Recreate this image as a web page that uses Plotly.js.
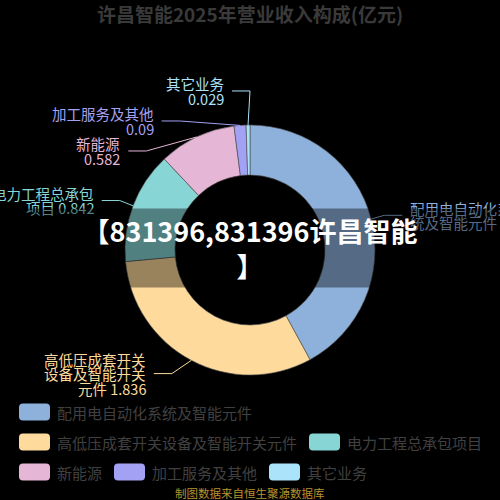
<!DOCTYPE html>
<html>
<head>
<meta charset="utf-8">
<script src="https://cdn.plot.ly/plotly-3.0.1.min.js"></script>
<style>
  html, body { margin: 0; padding: 0; background: #000; }
  #chart { width: 500px; height: 500px; }
</style>
</head>
<body>
<div id="chart"></div>
<script>
// Data
const categories = ['配用电自动化系统及智能元件', '高低压成套开关设备及智能开关元件', '电力工程总承包项目', '新能源', '加工服务及其他', '其它业务'];
const values = [2.45, 1.836, 0.842, 0.582, 0.09, 0.029];
const colors = ['#8eb1dc', '#fedb9c', '#88d5d6', '#e6b6d7', '#a3a1f4', '#abe3fa'];
const titleText = '许昌智能2025年营业收入构成(亿元)';
const watermarkText = '【831396,831396许昌智能<br>】';
const sourceText = '制图数据来自恒生聚源数据库';

// Geometry (pixels, 500x500 page)
const W = 500, H = 500;
const CX = 250, CY = 250, R_OUT = 125, R_IN = 75;
const R_LBL = 140;          // natural label distance
const ELL_A = 138, ELL_B = 150;
const LEN2 = 18;            // horizontal part of the leader line
const TXT_GAP = 6;
const LINE_H = 14.5;
const WRAP = 7;

const px = x => x / W;
const py = y => 1 - y / H;

// Label text: wrap names every 7 characters, value on last line
function labelLines(name, val) {
    const lines = [];
    for (let i = 0; i < name.length; i += WRAP) lines.push(name.slice(i, i + WRAP));
    if (lines.length > 1) lines[lines.length - 1] += ' ' + val;
    else lines.push(String(val));
    return lines;
}

// Slice midpoints and natural label positions
const total = values.reduce((a, b) => a + b, 0);
let acc = 0;
const items = values.map((v, i) => {
    const a0 = acc / total * 2 * Math.PI;
    acc += v;
    const a1 = acc / total * 2 * Math.PI;
    const mid = (a0 + a1) / 2;
    const lines = labelLines(categories[i], v);
    return {
        i, mid, lines,
        side: Math.sin(mid) >= 0 ? 1 : -1,
        sx: CX + R_OUT * Math.sin(mid),
        sy: CY - R_OUT * Math.cos(mid),
        y: CY - R_LBL * Math.cos(mid),
        h: lines.length * 15
    };
});

// Push overlapping labels apart on each side
[-1, 1].forEach(side => {
    const list = items.filter(d => d.side === side).sort((a, b) => a.y - b.y);
    let lastBottom = -Infinity, totalShift = 0;
    const moved = new Set();
    list.forEach((d, k) => {
        const top = d.y - d.h / 2;
        if (top < lastBottom) {
            d.y += lastBottom - top;
            totalShift += lastBottom - top;
            moved.add(k); moved.add(k - 1);
        }
        lastBottom = d.y + d.h / 2;
    });
    if (totalShift > 0) {
        const n = Math.max(1, list.length - 1);
        list.forEach((d, k) => { if (moved.has(k)) d.y -= totalShift / n; });
    }
});

const shapes = [];
const annotations = [];

items.forEach(d => {
    const dy = d.y - CY;
    const dx = ELL_A * Math.sqrt(Math.max(0, 1 - dy * dy / (ELL_B * ELL_B)));
    const ex = CX + d.side * dx;
    const endX = ex + d.side * LEN2;
    shapes.push({
        type: 'path', xref: 'paper', yref: 'paper',
        path: `M${px(d.sx)},${py(d.sy)} L${px(ex)},${py(d.y)} L${px(endX)},${py(d.y)}`,
        line: { color: colors[d.i], width: 1 }
    });
    d.lines.forEach((t, k) => {
        annotations.push({
            xref: 'paper', yref: 'paper', showarrow: false,
            x: px(endX + d.side * TXT_GAP), y: py(d.y + (k - (d.lines.length - 1) / 2) * LINE_H),
            xanchor: d.side < 0 ? 'right' : 'left', yanchor: 'middle',
            text: t,
            font: { size: 14.5, color: colors[d.i] }
        });
    });
});

// Legend (rounded icons + text), wrapped into rows
const LEG_FONT = 15, ICON_W = 31, ICON_H = 17, ICON_GAP = 7, ITEM_GAP = 12;
const LEG_X0 = 19, LEG_MAX = 490, LEG_Y0 = 412, LEG_ROW = 30;
function roundRect(x, y, w, h, r) {
    const p = (a, b) => `${px(a)},${py(b)}`;
    return `M${p(x + r, y)} L${p(x + w - r, y)} Q${p(x + w, y)} ${p(x + w, y + r)} ` +
        `L${p(x + w, y + h - r)} Q${p(x + w, y + h)} ${p(x + w - r, y + h)} ` +
        `L${p(x + r, y + h)} Q${p(x, y + h)} ${p(x, y + h - r)} ` +
        `L${p(x, y + r)} Q${p(x, y)} ${p(x + r, y)} Z`;
}
let lx = LEG_X0, row = 0;
categories.forEach((name, i) => {
    const w = ICON_W + ICON_GAP + name.length * LEG_FONT;
    if (lx > LEG_X0 && lx + w > LEG_MAX) { row++; lx = LEG_X0; }
    const cy = LEG_Y0 + row * LEG_ROW;
    shapes.push({
        type: 'path', xref: 'paper', yref: 'paper',
        path: roundRect(lx, cy - ICON_H / 2, ICON_W, ICON_H, 4),
        fillcolor: colors[i], line: { width: 0 }
    });
    annotations.push({
        xref: 'paper', yref: 'paper', showarrow: false,
        x: px(lx + ICON_W + ICON_GAP - 2), y: py(cy),
        xanchor: 'left', yanchor: 'middle',
        text: name, font: { size: LEG_FONT, color: '#404040' }
    });
    lx += w + ITEM_GAP;
});

// Source note
annotations.push({
    xref: 'paper', yref: 'paper', showarrow: false,
    x: 0.5, y: py(493), xanchor: 'center', yanchor: 'middle',
    text: sourceText, font: { size: 11.5, color: '#b8912f' }
});

// Watermark with darkening band (drawn last, on top)
annotations.push({
    xref: 'paper', yref: 'paper', showarrow: false,
    x: 0.5, y: py(248), xanchor: 'center', yanchor: 'middle',
    width: 500, height: 76, bgcolor: 'rgba(0,0,0,0.4)',
    text: '<b>' + watermarkText + '</b>',
    font: { size: 27, color: '#ffffff' }
});

const trace = {
    type: 'pie',
    labels: categories,
    values: values,
    sort: false,
    direction: 'clockwise',
    rotation: 0,
    hole: R_IN / R_OUT,
    domain: { x: [px(CX - R_OUT), px(CX + R_OUT)], y: [py(CY + R_OUT), py(CY - R_OUT)] },
    marker: { colors: colors, line: { color: 'rgba(80,80,80,0.8)', width: 0.8 } },
    textinfo: 'none',
    hoverinfo: 'none',
    showlegend: false
};

const layout = {
    width: W, height: H,
    margin: { t: 0, b: 0, l: 0, r: 0 },
    paper_bgcolor: '#000',
    plot_bgcolor: '#000',
    font: { family: '"Noto Sans CJK SC", "Noto Sans", sans-serif' },
    title: {
        text: '<b>' + titleText + '</b>',
        x: 0.5, xanchor: 'center', y: py(15), yanchor: 'middle',
        font: { size: 19, color: '#3a3a3a' }
    },
    showlegend: false,
    shapes: shapes,
    annotations: annotations
};

Plotly.newPlot('chart', [trace], layout, { displayModeBar: false, staticPlot: true });
</script>
</body>
</html>
